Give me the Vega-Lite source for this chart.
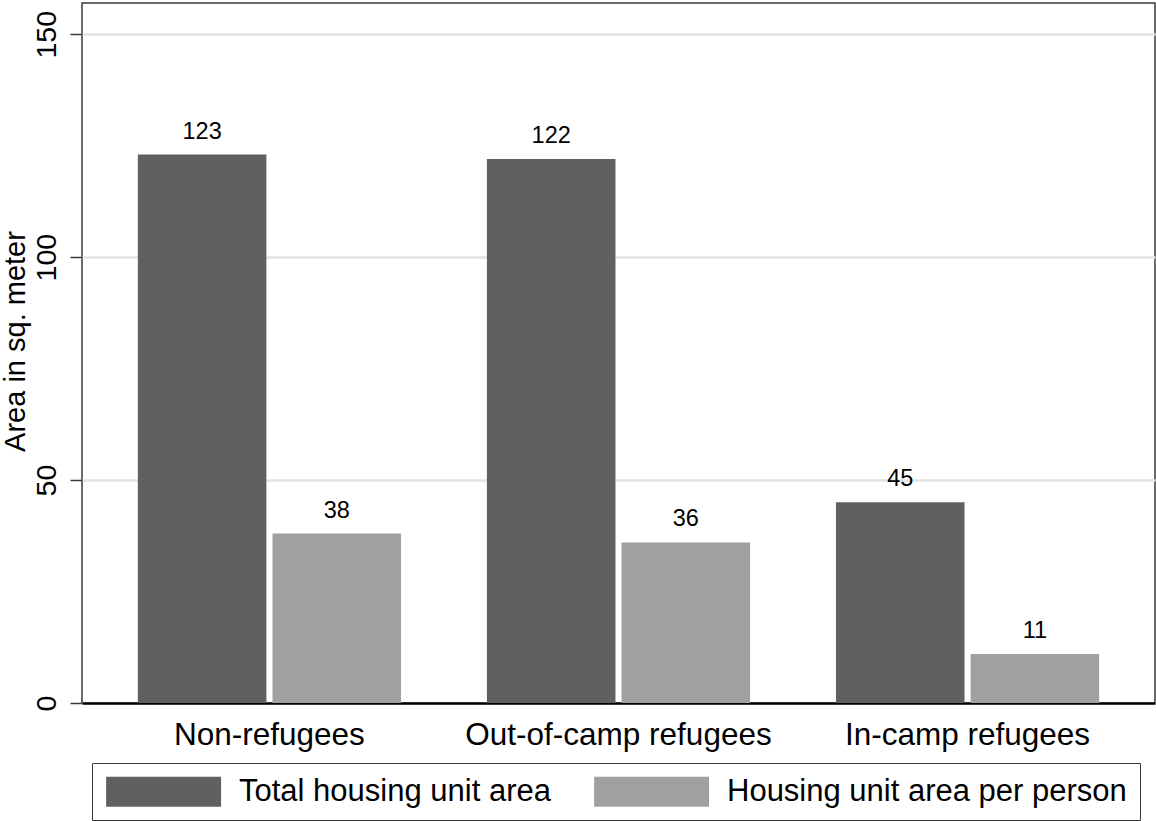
{
  "$schema": "https://vega.github.io/schema/vega-lite/v6.json",
  "autosize": "none",
  "padding": {"left": 82, "top": 3, "right": 1, "bottom": 118},
  "width": 1073,
  "height": 700,
  "background": "white",
  "config": {
    "font": "Liberation Sans",
    "view": {"stroke": "#3a3a3a", "strokeWidth": 1.5}
  },
  "data": {
    "values": [
      {"group": "Non-refugees", "measure": "Total housing unit area", "area": 123},
      {"group": "Non-refugees", "measure": "Housing unit area per person", "area": 38},
      {"group": "Out-of-camp refugees", "measure": "Total housing unit area", "area": 122},
      {"group": "Out-of-camp refugees", "measure": "Housing unit area per person", "area": 36},
      {"group": "In-camp refugees", "measure": "Total housing unit area", "area": 45},
      {"group": "In-camp refugees", "measure": "Housing unit area per person", "area": 11}
    ]
  },
  "encoding": {
    "x": {
      "field": "group",
      "type": "nominal",
      "sort": ["Non-refugees", "Out-of-camp refugees", "In-camp refugees"],
      "scale": {"paddingInner": 0.246, "paddingOuter": 0.16},
      "axis": {
        "title": null,
        "labelAngle": 0,
        "labelFontSize": 31.5,
        "labelColor": "#000000",
        "labelPadding": 16,
        "labelLimit": 600,
        "ticks": false,
        "tickSize": 0,
        "domainColor": "#000000",
        "domainWidth": 2.5,
        "grid": false
      }
    },
    "xOffset": {
      "field": "measure",
      "type": "nominal",
      "sort": ["Total housing unit area", "Housing unit area per person"],
      "scale": {"paddingInner": 0.045, "paddingOuter": 0}
    },
    "y": {
      "field": "area",
      "type": "quantitative",
      "scale": {"domain": [0, 157], "nice": false, "zero": true},
      "axis": {
        "title": "Area in sq. meter",
        "titleFontSize": 29,
        "titleFontWeight": "normal",
        "titleColor": "#000000",
        "titleAngle": -90,
        "titleAlign": "center",
        "titleBaseline": "alphabetic",
        "titleX": -58,
        "titleY": 338,
        "values": [0, 50, 100, 150],
        "labelAngle": -90,
        "labelAlign": "center",
        "labelBaseline": "bottom",
        "labelFontSize": 28.5,
        "labelColor": "#000000",
        "labelPadding": 9,
        "tickSize": 12,
        "tickColor": "#3a3a3a",
        "tickWidth": 1.5,
        "domain": false,
        "grid": true,
        "gridColor": "#e3e3e3",
        "gridWidth": 2.5
      }
    }
  },
  "layer": [
    {
      "mark": {"type": "bar"},
      "encoding": {
        "color": {
          "field": "measure",
          "type": "nominal",
          "sort": ["Total housing unit area", "Housing unit area per person"],
          "scale": {
            "domain": ["Total housing unit area", "Housing unit area per person"],
            "range": ["#606060", "#a0a0a0"]
          },
          "legend": {
            "title": null,
            "orient": "none",
            "direction": "horizontal",
            "legendX": 10,
            "legendY": 760,
            "padding": 13,
            "strokeColor": "#3a3a3a",
            "fillColor": "white",
            "symbolType": "M-1,-1.04H7V1.04H-1Z",
            "symbolSize": 826,
            "symbolStrokeWidth": 0,
            "symbolOpacity": 1,
            "labelFontSize": 31,
            "labelColor": "#000000",
            "labelOffset": 103,
            "labelLimit": 600,
            "columnPadding": 42
          }
        }
      }
    },
    {
      "mark": {
        "type": "text",
        "baseline": "alphabetic",
        "dy": -16,
        "fontSize": 23.5,
        "color": "#000000"
      },
      "encoding": {
        "text": {"field": "area", "type": "quantitative", "format": "d"}
      }
    }
  ]
}
